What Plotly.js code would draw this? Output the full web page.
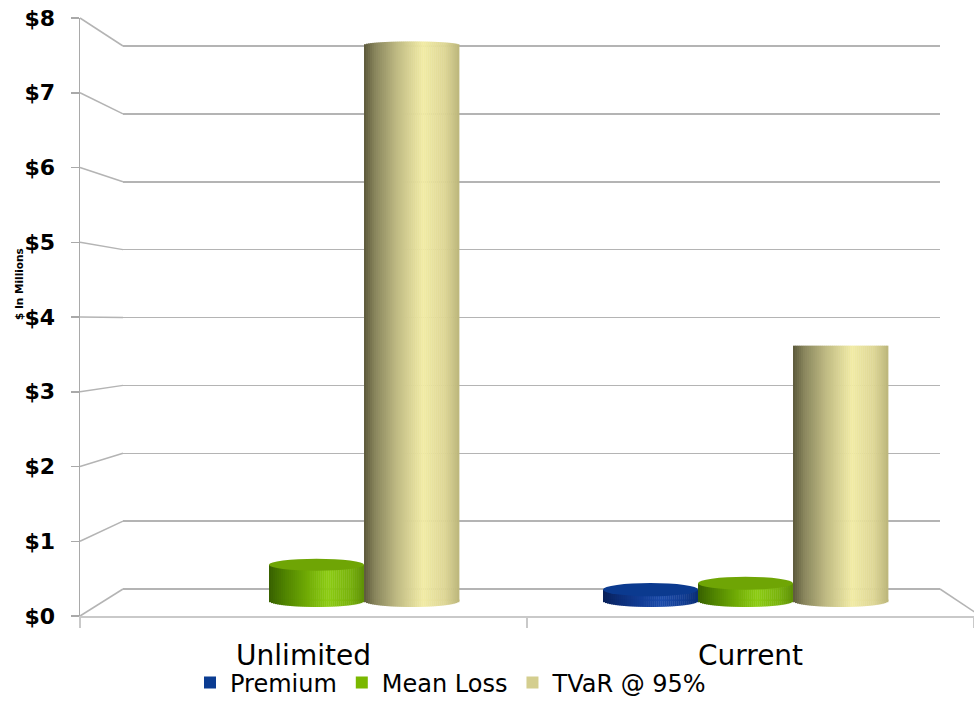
<!DOCTYPE html>
<html>
<head>
<meta charset="utf-8">
<script src="https://cdn.plot.ly/plotly-3.0.1.min.js"></script>
<style>
  html, body { margin: 0; padding: 0; background: #ffffff; }
  #chart { width: 974px; height: 726px; }
</style>
</head>
<body>
<div id="chart"></div>
<script>
// ---- data ($ millions) ----
const categories = ['Unlimited', 'Current'];
const seriesNames = ['Premium', 'Mean Loss', 'TVaR @ 95%'];
const premium = [null, 0.16];
const meanLoss = [0.51, 0.25];
const tvar95 = [7.84, 3.60];
const yTickValues = [0, 1, 2, 3, 4, 5, 6, 7, 8];

// ---- page geometry (pixels) ----
const W = 974, H = 726;
const M = { l: 80, r: 0, t: 18, b: 110 };
const PW = W - M.l - M.r, PH = H - M.t - M.b;
const BOTTOM = M.t + PH;            // front floor edge

// front scale (axis with labels), back wall scale, and the scale at bar depth
const FRONT = { zero: BOTTOM, perUnit: PH / 8 };
const BACK = { zero: 589, perUnit: (589 - 46) / 8, left: 123, right: 940 };
const BARS = { zero: 601, perUnit: 70.93, left: 102, right: 960 };

function rangeFor(s) {
  return [-(BOTTOM - s.zero) / s.perUnit, (s.zero - M.t) / s.perUnit];
}
const paperX = px => (px - M.l) / PW;
const paperY = px => (BOTTOM - px) / PH;

// cylinder shading: colour stops across the width of a column
const shading = {
  'Premium':    [[0, '#081f58'], [0.15, '#0c2c74'], [0.4, '#123d96'], [0.62, '#1a4aa9'], [0.85, '#103b91'], [1, '#0a2d74']],
  'Mean Loss':  [[0, '#386000'], [0.15, '#4d8000'], [0.4, '#70ab05'], [0.62, '#8ccc12'], [0.85, '#78b20b'], [1, '#5e9006']],
  'TVaR @ 95%': [[0, '#5c593b'], [0.12, '#8a875e'], [0.35, '#c0bb84'], [0.62, '#f1eba4'], [0.85, '#ddd695'], [1, '#bcb67b']]
};
const topFace = { 'Premium': '#0b3a8f', 'Mean Loss': '#6fa505', 'TVaR @ 95%': '#e6e09c' };
const legendColor = { 'Premium': '#0b3c92', 'Mean Loss': '#7ab800', 'TVaR @ 95%': '#d4ce8f' };

function hex2rgb(h) { return [1, 3, 5].map(i => parseInt(h.substr(i, 2), 16)); }
function shade(stops, t) {
  for (let k = 1; k < stops.length; k++) {
    if (t <= stops[k][0]) {
      const a = stops[k - 1], b = stops[k];
      const f = (t - a[0]) / (b[0] - a[0]);
      const ca = hex2rgb(a[1]), cb = hex2rgb(b[1]);
      const c = ca.map((v, i) => Math.round(v + (cb[i] - v) * f));
      return 'rgb(' + c.join(',') + ')';
    }
  }
  return stops[stops.length - 1][1];
}

const allSeries = [premium, meanLoss, tvar95];
const catWidthPx = (BARS.right - BARS.left) / categories.length;
const barW = 95 / catWidthPx;          // column width in category units
const STRIPS = 48;
const stripW = barW / STRIPS;
const RIM = 6;                          // half height of base ellipse, px
const EYE = 330, PERSP = 0.0255;        // eye level for the top faces

const traces = [];
const shapes = [];

// legend entries (zero-height columns, only their keys are seen)
seriesNames.forEach(name => {
  traces.push({
    type: 'bar', x: [categories[0]], y: [0], name: name, xaxis: 'x3', yaxis: 'y3',
    width: 0.001, marker: { color: legendColor[name], line: { width: 0 } }, showlegend: true
  });
});

// back wall grid holder and front axis holder
traces.push({ type: 'scatter', x: [0], y: [0], xaxis: 'x', yaxis: 'y', mode: 'markers',
  marker: { opacity: 0 }, showlegend: false, hoverinfo: 'skip' });
traces.push({ type: 'scatter', x: categories, y: [0, 0], xaxis: 'x2', yaxis: 'y2', mode: 'markers',
  marker: { opacity: 0 }, showlegend: false, hoverinfo: 'skip' });

// columns: thin vertical strips give the rounded shading
seriesNames.forEach((name, s) => {
  const start = (s - 1.5) * barW;
  const stops = shading[name];
  for (let i = 0; i < STRIPS; i++) {
    const t = (i + 0.5) / STRIPS;
    traces.push({
      type: 'bar', x: categories, y: allSeries[s], xaxis: 'x3', yaxis: 'y3',
      offset: start + i * stripW, width: stripW * 1.2,
      marker: { color: shade(stops, t), line: { width: 0 } },
      showlegend: false, hoverinfo: 'skip'
    });
  }
  // rounded base and top faces
  allSeries[s].forEach((v, c) => {
    if (v === null || v === undefined) return;
    const x0 = c + start;
    for (let i = 0; i < STRIPS; i++) {
      const t = (i + 0.5) / STRIPS;
      const arc = Math.sqrt(Math.max(0, 1 - (2 * t - 1) * (2 * t - 1)));
      shapes.push({ type: 'rect', xref: 'x3', yref: 'y3', layer: 'above',
        x0: x0 + i * stripW, x1: x0 + (i + 1.2) * stripW,
        y0: -RIM * arc / BARS.perUnit, y1: 0.02,
        fillcolor: shade(stops, t), line: { width: 0 } });
    }
    const topPx = BARS.zero - v * BARS.perUnit;
    const h = (topPx - EYE) * PERSP;
    if (h > 1) {
      shapes.push({ type: 'circle', xref: 'x3', yref: 'y3', layer: 'above',
        x0: x0, x1: x0 + barW,
        y0: v - h / BARS.perUnit, y1: v + h / BARS.perUnit,
        fillcolor: topFace[name], line: { width: 0 } });
    } else if (h < -1) {
      const d = Math.min(-h, 3.5);
      for (let i = 0; i < STRIPS; i++) {
        const t = (i + 0.5) / STRIPS;
        const arc = Math.sqrt(Math.max(0, 1 - (2 * t - 1) * (2 * t - 1)));
        shapes.push({ type: 'rect', xref: 'x3', yref: 'y3', layer: 'above',
          x0: x0 + i * stripW, x1: x0 + (i + 1.2) * stripW,
          y0: v - 0.01, y1: v + d * arc / BARS.perUnit,
          fillcolor: shade(stops, t), line: { width: 0 } });
      }
    }
  });
});

// side wall: connectors from the front axis ticks to the back wall grid
const GRID = '#b4b4b4';
yTickValues.forEach(v => {
  shapes.push({ type: 'line', xref: 'paper', yref: 'paper', layer: 'below',
    x0: 0, x1: paperX(BACK.left),
    y0: paperY(FRONT.zero - v * FRONT.perUnit), y1: paperY(BACK.zero - v * BACK.perUnit),
    line: { color: GRID, width: 1.5 } });
});
// right edge of the floor
shapes.push({ type: 'line', xref: 'paper', yref: 'paper', layer: 'below',
  x0: paperX(BACK.right), x1: paperX(W + 6),
  y0: paperY(BACK.zero), y1: paperY(BOTTOM - 0.5),
  line: { color: GRID, width: 1.5 } });

const layout = {
  width: W, height: H,
  margin: M,
  paper_bgcolor: '#ffffff',
  plot_bgcolor: 'rgba(0,0,0,0)',
  barmode: 'overlay',
  hovermode: false,
  showlegend: true,
  font: { family: 'DejaVu Sans, sans-serif', color: '#000000' },
  legend: {
    orientation: 'h', xref: 'paper', x: paperX(190), xanchor: 'left',
    yref: 'paper', y: paperY(683), yanchor: 'middle',
    font: { family: 'DejaVu Sans, sans-serif', size: 24, color: '#000000' },
    tracegroupgap: 0, traceorder: 'normal', bgcolor: 'rgba(0,0,0,0)'
  },
  // back wall
  xaxis: { domain: [paperX(BACK.left), paperX(BACK.right)], range: [0, 1], anchor: 'y',
    showgrid: false, zeroline: false, showticklabels: false, showline: false, ticks: '', fixedrange: true },
  yaxis: { domain: [0, 1], range: rangeFor(BACK), anchor: 'x',
    tickmode: 'array', tickvals: yTickValues, showgrid: true, gridcolor: GRID, gridwidth: 1.5,
    zeroline: false, showticklabels: false, showline: false, ticks: '', fixedrange: true },
  // front axes
  xaxis2: { domain: [0, 1], anchor: 'y2', type: 'category', range: [-0.5, 1.5],
    categoryorder: 'array', categoryarray: categories,
    showgrid: false, zeroline: false, showline: true, linecolor: '#c9c9c9', linewidth: 2,
    ticks: 'outside', tickson: 'boundaries', ticklen: 10, tickwidth: 2, tickcolor: '#c9c9c9',
    tickfont: { family: 'DejaVu Sans, sans-serif', size: 28, color: '#000000' },
    ticklabelstandoff: 13, fixedrange: true },
  yaxis2: { domain: [0, 1], anchor: 'x2', range: [0, 8],
    tickmode: 'array', tickvals: yTickValues, ticktext: yTickValues.map(v => '$' + v),
    showgrid: false, zeroline: false, showline: true, linecolor: '#a9a9a9', linewidth: 1.5,
    ticks: 'outside', ticklen: 8, tickwidth: 1.5, tickcolor: '#a9a9a9',
    tickfont: { family: 'DejaVu Sans, sans-serif', size: 22, color: '#000000', weight: 'bold' },
    ticklabelstandoff: 11, fixedrange: true },
  // columns
  xaxis3: { domain: [paperX(BARS.left), paperX(BARS.right)], anchor: 'y3', type: 'category',
    range: [-0.5, 1.5], categoryorder: 'array', categoryarray: categories, visible: false, fixedrange: true },
  yaxis3: { domain: [0, 1], anchor: 'x3', range: rangeFor(BARS), visible: false, fixedrange: true },
  shapes: shapes,
  annotations: [{
    text: '$ In Millions', textangle: -90, showarrow: false,
    xref: 'paper', yref: 'paper', x: paperX(19), y: paperY(284), xanchor: 'center', yanchor: 'middle',
    font: { family: 'DejaVu Sans, sans-serif', size: 10.5, color: '#000000', weight: 'bold' }
  }]
};

Plotly.newPlot('chart', traces, layout, { displayModeBar: false, staticPlot: true });
</script>
</body>
</html>
